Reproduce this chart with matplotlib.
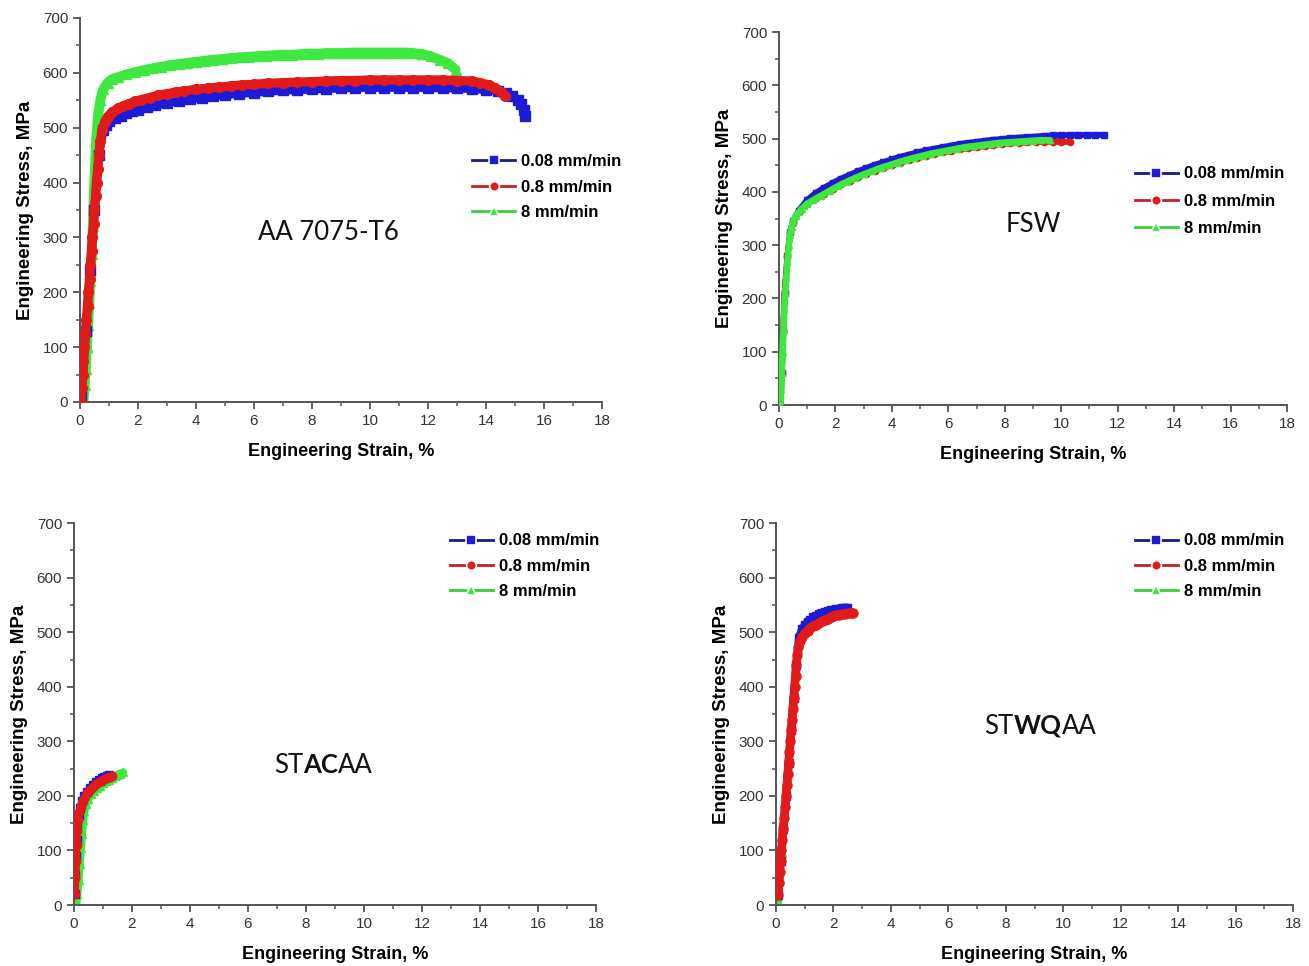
import matplotlib
matplotlib.use("Agg")
import matplotlib.pyplot as plt
from matplotlib.lines import Line2D
from matplotlib.offsetbox import TextArea, HPacker, AnnotationBbox

# --- data (engineering strain %, engineering stress MPa) ---
labels = ["0.08 mm/min", "0.8 mm/min", "8 mm/min"]

# AA 7075-T6
t6_blue_x = [0.05, 0.2, 0.35, 0.5, 0.65, 0.8, 0.9, 1.0, 1.2, 1.4, 1.6, 1.8, 2.0, 2.3, 2.6, 3.0, 3.4,
             3.8, 4.2, 4.6, 5.0, 5.5, 6.0, 6.5, 7.0, 7.5, 8.0, 8.5, 9.0, 9.5, 10.0, 10.5, 11.0, 11.5,
             12.0, 12.5, 13.0, 13.5, 14.0, 14.4, 14.7, 14.9, 15.1, 15.2, 15.3, 15.35]
t6_blue_y = [10, 130, 240, 350, 450, 495, 505, 512, 518, 522, 526, 530, 533, 537, 541, 545, 549,
             552, 555, 558, 560, 562, 564, 566, 568, 569, 570, 571, 572, 573, 573, 573, 573, 573,
             573, 572, 572, 571, 569, 567, 563, 558, 550, 543, 532, 522]
t6_red_x = [0.03, 0.06, 0.09, 0.12, 0.15, 0.19, 0.22, 0.26, 0.29, 0.33, 0.36, 0.40, 0.43, 0.47, 0.50,
            0.54, 0.57, 0.61, 0.65, 0.70, 0.76, 0.85, 0.95, 1.1, 1.3, 1.5, 1.7, 1.9, 2.1, 2.4, 2.7,
            3.0, 3.3, 3.6, 4.0, 4.4, 4.8, 5.2, 5.6, 6.0, 6.5, 7.0, 7.5, 8.0, 8.5, 9.0, 9.5, 10.0,
            10.5, 11.0, 11.5, 12.0, 12.5, 13.0, 13.5, 13.8, 14.1, 14.3, 14.5, 14.65]
t6_red_y = [0, 25, 50, 75, 100, 125, 150, 175, 200, 225, 250, 275, 300, 325, 350,
            375, 400, 425, 450, 475, 495, 510, 520, 528, 535, 540, 544, 548, 551, 555, 559,
            562, 565, 567, 570, 572, 574, 576, 578, 579, 581, 582, 583, 584, 585, 586, 586, 587,
            587, 587, 587, 587, 587, 586, 585, 582, 578, 572, 565, 558]
t6_green_x = [0.12, 0.16, 0.2, 0.24, 0.28, 0.32, 0.36, 0.40, 0.44, 0.48, 0.52, 0.56, 0.62, 0.70, 0.80,
              0.95, 1.1, 1.3, 1.6, 1.9, 2.2, 2.5, 2.8, 3.1, 3.4, 3.7, 4.0, 4.3, 4.6, 4.9, 5.2, 5.5,
              5.8, 6.1, 6.4, 6.7, 7.0, 7.3, 7.6, 7.9, 8.2, 8.5, 8.8, 9.1, 9.4, 9.7, 10.0, 10.3,
              10.6, 10.9, 11.2, 11.5, 11.8, 12.1, 12.4, 12.7, 12.95]
t6_green_y = [0, 30, 60, 100, 140, 180, 220, 270, 320, 380, 430, 480, 520, 550, 570,
              582, 588, 592, 597, 601, 605, 608, 611, 614, 616, 618, 620, 622, 624, 625, 627, 628,
              629, 630, 631, 632, 633, 633, 634, 635, 635, 636, 636, 636, 637, 637, 637, 637,
              637, 637, 637, 636, 634, 630, 624, 617, 606]

# FSW
fsw_blue_x = [0.05, 0.1, 0.15, 0.2, 0.3, 0.4, 0.5, 0.7, 1.0, 1.3, 1.6, 1.9, 2.2, 2.5, 2.8, 3.1, 3.4,
              3.7, 4.0, 4.3, 4.6, 4.9, 5.2, 5.5, 5.8, 6.1, 6.4, 6.7, 7.0, 7.3, 7.6, 7.9, 8.2, 8.5,
              8.8, 9.1, 9.4, 9.7, 10.0, 10.3, 10.6, 10.9, 11.2, 11.5]
fsw_blue_y = [0, 60, 140, 210, 280, 325, 345, 365, 385, 398, 408, 417, 425, 432, 439, 445, 451,
              456, 461, 466, 470, 474, 478, 481, 484, 487, 490, 492, 494, 496, 498, 499, 501, 502,
              503, 504, 505, 506, 506, 507, 507, 507, 507, 507]
fsw_red_x = [0.05, 0.1, 0.15, 0.2, 0.3, 0.4, 0.5, 0.7, 1.0, 1.3, 1.6, 1.9, 2.2, 2.5, 2.8, 3.1, 3.4,
             3.7, 4.0, 4.3, 4.6, 4.9, 5.2, 5.5, 5.8, 6.1, 6.4, 6.7, 7.0, 7.3, 7.6, 7.9, 8.2, 8.5,
             8.8, 9.1, 9.4, 9.7, 10.0, 10.3]
fsw_red_y = [0, 60, 140, 210, 280, 322, 342, 362, 378, 388, 397, 406, 414, 421, 428, 434, 440,
             445, 450, 455, 459, 463, 467, 471, 474, 477, 480, 482, 484, 486, 488, 490, 491, 492,
             493, 494, 494, 494, 494, 494]
fsw_green_x = [0.05, 0.08, 0.1, 0.13, 0.16, 0.19, 0.22, 0.26, 0.30, 0.35, 0.40, 0.45, 0.5, 0.6, 0.7,
               0.8, 0.9, 1.0, 1.2, 1.5, 1.8, 2.1, 2.4, 2.7, 3.0, 3.3, 3.6, 3.9, 4.2, 4.5, 4.8,
               5.1, 5.4, 5.7, 6.0, 6.3, 6.6, 6.9, 7.2, 7.5, 7.8, 8.1, 8.4, 8.7, 9.0, 9.3, 9.6]
fsw_green_y = [0, 30, 60, 100, 140, 180, 210, 240, 270, 300, 320, 335, 345, 355, 362,
               368, 373, 378, 384, 393, 402, 411, 419, 426, 433, 439, 445, 450, 455, 460, 464,
               468, 472, 475, 478, 481, 484, 486, 488, 490, 492, 493, 494, 495, 496, 497, 497]

# STACAA
ac_blue_x = [0.03, 0.05, 0.07, 0.09, 0.12, 0.16, 0.21, 0.28, 0.36, 0.45, 0.55, 0.65, 0.75, 0.85,
             0.95, 1.05, 1.15, 1.2]
ac_blue_y = [20, 55, 90, 120, 145, 165, 178, 190, 199, 207, 214, 220, 225, 229, 232, 235, 237, 238]
ac_red_x = [0.03, 0.05, 0.07, 0.09, 0.11, 0.14, 0.18, 0.23, 0.3, 0.38, 0.46, 0.55, 0.65, 0.75, 0.85,
            0.95, 1.05, 1.15, 1.25, 1.3]
ac_red_y = [20, 50, 80, 110, 135, 155, 170, 180, 190, 198, 205, 211, 216, 221, 225, 228, 231, 233,
            235, 236]
ac_green_x = [0.08, 0.12, 0.16, 0.2, 0.24, 0.28, 0.32, 0.36, 0.42, 0.5, 0.6, 0.7, 0.8, 0.9, 1.0,
              1.1, 1.2, 1.3, 1.4, 1.5, 1.6, 1.7]
ac_green_y = [0, 20, 45, 75, 105, 130, 155, 172, 185, 195, 203, 209, 214, 219, 223, 227, 230, 233,
              236, 239, 241, 243]

# STWQAA
wq_blue_x = [0.07, 0.16, 0.25, 0.35, 0.44, 0.53, 0.62, 0.71, 0.8, 0.9, 1.0, 1.1, 1.2, 1.3, 1.4,
             1.5, 1.6, 1.7, 1.8, 1.9, 2.0, 2.1, 2.2, 2.3, 2.4, 2.47]
wq_blue_y = [18, 80, 140, 200, 260, 320, 380, 440, 490, 505, 513, 519, 523, 527, 530,
             533, 535, 537, 539, 540, 541, 542, 543, 544, 545, 545]
wq_red_x = [0.07, 0.1, 0.13, 0.16, 0.19, 0.22, 0.25, 0.29, 0.32, 0.35, 0.38, 0.41, 0.44, 0.47, 0.5,
            0.53, 0.56, 0.59, 0.62, 0.65, 0.68, 0.71, 0.74, 0.78, 0.84, 0.92, 1.0, 1.1, 1.2, 1.3,
            1.4, 1.5, 1.6, 1.7, 1.8, 1.9, 2.0, 2.1, 2.2, 2.3, 2.4, 2.5, 2.6, 2.68]
wq_red_y = [18, 40, 60, 80, 100, 120, 140, 160, 180, 200, 220, 240, 260, 280, 300,
            320, 340, 360, 380, 400, 420, 440, 458, 472, 484, 492, 498, 503, 507, 511,
            514, 517, 520, 522, 525, 527, 529, 531, 532, 533, 534, 535, 536, 536]
wq_green_x = [0.08, 0.14, 0.2, 0.26, 0.33, 0.39, 0.45, 0.51, 0.57, 0.63, 0.69, 0.75, 0.8]
wq_green_y = [0, 50, 95, 140, 190, 235, 280, 320, 360, 400, 440, 470, 480]

blue, red, green = "#1c1cd8", "#e21a1a", "#3ee83e"
leg_colors = ["#1a1a8a", "#c42020", "#3ccc3c"]
markers = ["s", "o", "^"]

plt.rcParams["font.family"] = ["Liberation Sans", "DejaVu Sans"]

fig = plt.figure(figsize=(13.09, 9.66), dpi=100)

panels = [
    dict(rect=[0.0611, 0.5839, 0.3988, 0.3975],
         series=[(t6_green_x, t6_green_y, green, "^", 7.5, 1), (t6_blue_x, t6_blue_y, blue, "s", 6.5, 2),
                 (t6_red_x, t6_red_y, red, "o", 7, 3)],
         text=[("AA 7075-T6", "normal")], tpos=(8.55, 308),
         leg=(0.751, 0.645), lspace=0.62),
    dict(rect=[0.5951, 0.5807, 0.3881, 0.3861],
         series=[(fsw_blue_x, fsw_blue_y, blue, "s", 4.5, 1), (fsw_red_x, fsw_red_y, red, "o", 4.5, 2),
                 (fsw_green_x, fsw_green_y, green, "^", 5, 3)],
         text=[("FSW", "normal")], tpos=(9.0, 338),
         leg=(0.70, 0.640), lspace=0.74),
    dict(rect=[0.0565, 0.0631, 0.3988, 0.3954],
         series=[(ac_green_x, ac_green_y, green, "^", 6, 1), (ac_blue_x, ac_blue_y, blue, "s", 5.5, 2),
                 (ac_red_x, ac_red_y, red, "o", 6, 3)],
         text=[("ST", "normal"), ("AC", "bold"), ("AA", "normal")], tpos=(8.6, 255),
         leg=(0.72, 0.973), lspace=0.62),
    dict(rect=[0.5928, 0.0631, 0.3950, 0.3954],
         series=[(wq_green_x, wq_green_y, green, "^", 5.5, 1), (wq_blue_x, wq_blue_y, blue, "s", 6, 2),
                 (wq_red_x, wq_red_y, red, "o", 6.5, 3)],
         text=[("ST", "normal"), ("WQ", "bold"), ("AA", "normal")], tpos=(9.2, 328),
         leg=(0.694, 0.973), lspace=0.62),
]

for p in panels:
    ax = fig.add_axes(p["rect"])
    for x, y, c, m, ms, z in p["series"]:
        ax.plot(x, y, color=c, lw=ms * 0.95, solid_capstyle="round", zorder=z)
        ax.plot(x, y, color=c, lw=0, marker=m, ms=ms, zorder=z)

    ax.set_xlim(0, 18)
    ax.set_ylim(0, 700)
    ax.set_xticks(range(0, 19, 2))
    ax.set_xticks(range(0, 19, 1), minor=True)
    ax.set_yticks(range(0, 701, 100))
    ax.set_yticks(range(0, 701, 50), minor=True)
    for s in ["top", "right"]:
        ax.spines[s].set_visible(False)
    for s in ["left", "bottom"]:
        ax.spines[s].set_color("#555555")
        ax.spines[s].set_linewidth(1.4)
    ax.tick_params(which="major", direction="out", length=5, width=1.3, color="#555555",
                   labelsize=11, labelcolor="#333333")
    ax.tick_params(which="minor", direction="out", length=3, width=1.1, color="#555555")
    ax.set_xlabel("Engineering Strain, %", fontsize=13, fontweight="bold", labelpad=11)
    ax.set_ylabel("Engineering Stress, MPa", fontsize=13.5, fontweight="bold", labelpad=6)

    handles = [Line2D([], [], color=leg_colors[i], lw=2, marker=markers[i], ms=7,
                      markerfacecolor=[blue, red, green][i], markeredgecolor="white",
                      markeredgewidth=1.2) for i in range(3)]
    ax.legend(handles, labels, loc="upper left", bbox_to_anchor=p["leg"], frameon=False,
              borderpad=0, borderaxespad=0, handlelength=2.6, handletextpad=0.35,
              labelspacing=p["lspace"], prop=dict(size=12, weight="bold"))

    parts = [TextArea(t, textprops=dict(fontsize=18.5, fontweight=w, family="Lato", color="#111111"))
             for t, w in p["text"]]
    box = HPacker(children=parts, align="baseline", pad=0, sep=0)
    ax.add_artist(AnnotationBbox(box, p["tpos"], xycoords="data", frameon=False,
                                 box_alignment=(0.5, 0.5), pad=0))

fig.savefig("out.png", dpi=100)
